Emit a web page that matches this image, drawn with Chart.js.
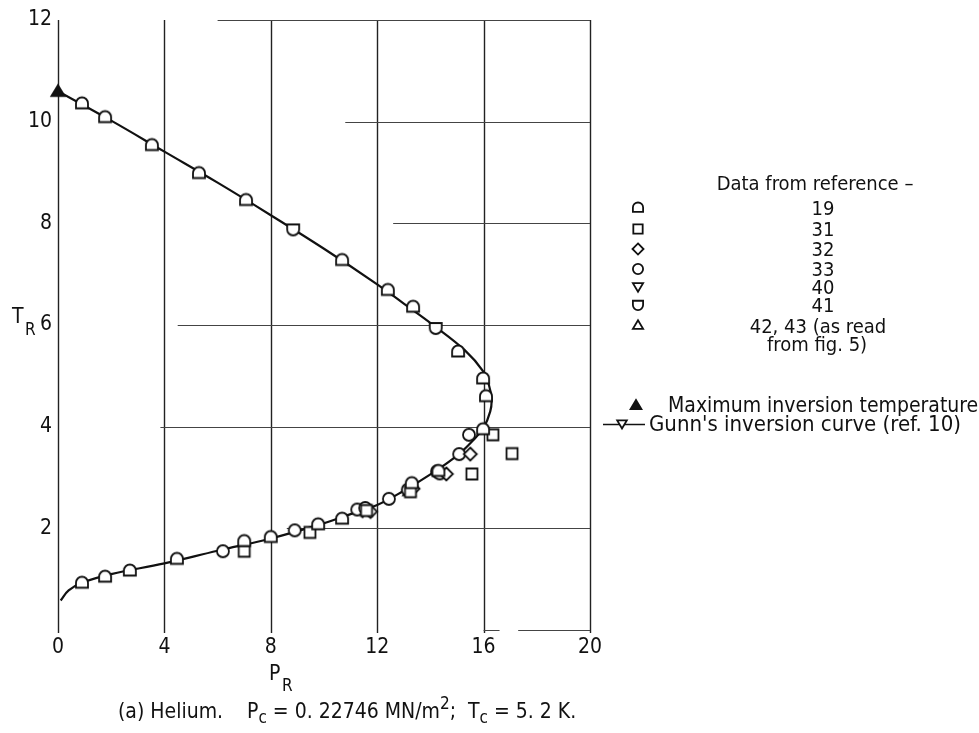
<!DOCTYPE html>
<html>
<head>
<meta charset="utf-8">
<script src="https://cdn.jsdelivr.net/npm/chart.js@4.4.1/dist/chart.umd.min.js"></script>
<style>
    html, body { margin: 0; padding: 0; background: #fff; }
    #wrap { width: 979px; height: 733px; position: relative; }
</style>
</head>
<body>
<div id="wrap"><canvas id="chart" width="979" height="733"></canvas></div>
<script>
( function ()
{
    'use strict';

    // Gunn's inversion curve (ref. 10), bottom branch to top
    const curveP = [ 0.1, 0.4, 0.9, 2, 4, 6, 8, 10, 11, 12, 13, 14, 15, 15.6, 16, 16.25, 16.3, 16.2, 16.0, 15.3, 14.1, 13, 12, 10, 8, 6, 4, 2, 0 ];
    const curveT = [ 0.58, 0.78, 0.93, 1.1, 1.31, 1.56, 1.8, 2.1, 2.28, 2.46, 2.74, 3.06, 3.43, 3.73, 3.98, 4.3, 4.55, 4.82, 5.08, 5.5, 6.0, 6.42, 6.8, 7.5, 8.16, 8.8, 9.41, 10.02, 10.6 ];

    // data from references
    const ref19P = [ 0.9, 1.77, 3.53, 5.3, 7.07, 10.68, 12.4, 13.35, 15.04, 15.98, 16.09, 15.98, 0.9, 1.77, 2.7, 4.47, 7.0, 8.0, 9.78, 10.68, 13.3, 14.3 ];
    const ref19T = [ 10.35, 10.08, 9.53, 8.98, 8.45, 7.27, 6.68, 6.35, 5.47, 4.94, 4.59, 3.94, 0.92, 1.04, 1.16, 1.39, 1.74, 1.82, 2.07, 2.18, 2.88, 3.12 ];
    const ref31P = [ 16.35, 17.07, 15.56, 7.0, 9.47, 13.25, 11.6 ];
    const ref31T = [ 3.84, 3.47, 3.07, 1.55, 1.92, 2.72, 2.35 ];
    const ref32P = [ 15.5, 14.6, 11.75, 13.35 ];
    const ref32T = [ 3.46, 3.07, 2.33, 2.78 ];
    const ref33P = [ 15.45, 15.08, 14.25, 14.35, 12.44, 11.25, 11.55, 13.15, 6.2, 8.9 ];
    const ref33T = [ 3.84, 3.46, 3.12, 3.08, 2.58, 2.37, 2.4, 2.76, 1.55, 1.96 ];
    const ref40P = [ 11.45 ];
    const ref40T = [ 2.33 ];
    const ref41P = [ 8.84, 14.2 ];
    const ref41T = [ 7.88, 5.94 ];
    const ref42P = [ 13.2 ];
    const ref42T = [ 2.74 ];
    const maxInvP = [ 0 ];
    const maxInvT = [ 10.6 ];

    // axes
    const xTicks = [ 0, 4, 8, 12, 16, 20 ];
    const yTicks = [ 2, 4, 6, 8, 10, 12 ];
    // horizontal rules only start part way across in the original
    const hRuleFrom = [ 8.6, 3.85, 4.5, 12.6, 10.8, 6 ];
    const bottomRule = [ [ 16, 16.6 ], [ 17.3, 20 ] ];

    const legendRefs = [ '19', '31', '32', '33', '40', '41' ];
    const legendShapes = [ 'dome', 'rect', 'diamond', 'circle', 'down', 'cup' ];

    const FONT = '"DejaVu Sans Condensed", "Liberation Sans Narrow", sans-serif';
    const INK = '#111';

    function pairs ( xs, ys )
    {
        return xs.map( ( x, i ) => ( { x, y: ys[ i ] } ) );
    }

    function drawMarker ( ctx, shape, x, y, filled, s )
    {
        s = s || 1;
        ctx.save();
        ctx.translate( x, y );
        ctx.scale( s, s );
        ctx.beginPath();
        switch ( shape )
        {
            case 'dome':
                ctx.moveTo( -6, 4.5 );
                ctx.lineTo( -6, -0.5 );
                ctx.arc( 0, -0.5, 6, Math.PI, 0 );
                ctx.lineTo( 6, 4.5 );
                ctx.closePath();
                break;
            case 'cup':
                ctx.moveTo( -6, -5 );
                ctx.lineTo( 6, -5 );
                ctx.lineTo( 6, 0 );
                ctx.arc( 0, 0, 6, 0, Math.PI );
                ctx.closePath();
                break;
            case 'rect':
                ctx.rect( -5.5, -5.5, 11, 11 );
                break;
            case 'diamond':
                ctx.moveTo( 0, -6.5 );
                ctx.lineTo( 6.5, 0 );
                ctx.lineTo( 0, 6.5 );
                ctx.lineTo( -6.5, 0 );
                ctx.closePath();
                break;
            case 'circle':
                ctx.arc( 0, 0, 6, 0, Math.PI * 2 );
                break;
            case 'down':
                ctx.moveTo( -6, -4.5 );
                ctx.lineTo( 6, -4.5 );
                ctx.lineTo( 0, 5.5 );
                ctx.closePath();
                break;
            case 'up':
                ctx.moveTo( -6, 4.5 );
                ctx.lineTo( 6, 4.5 );
                ctx.lineTo( 0, -5.5 );
                ctx.closePath();
                break;
        }
        ctx.fillStyle = filled ? INK : '#fff';
        ctx.fill();
        ctx.lineWidth = 1.8 / s;
        ctx.strokeStyle = INK;
        ctx.stroke();
        ctx.restore();
    }

    function markerImage ( shape, filled, s )
    {
        const c = document.createElement( 'canvas' );
        c.width = 20;
        c.height = 20;
        drawMarker( c.getContext( '2d' ), shape, 10, 10, filled, s );
        return c;
    }

    function pointSet ( label, xs, ys, shape, filled, s )
    {
        return {
            label,
            data: pairs( xs, ys ),
            pointStyle: markerImage( shape, filled, s ),
            pointRadius: 7,
            showLine: false,
            clip: false
        };
    }

    function text ( ctx, str, x, y, size, align )
    {
        ctx.font = size + 'px ' + FONT;
        ctx.textAlign = align || 'left';
        ctx.textBaseline = 'alphabetic';
        ctx.fillStyle = INK;
        ctx.fillText( str, x, y );
        return ctx.measureText( str ).width;
    }

    const rulesPlugin = {
        id: 'rules',
        beforeDatasetsDraw ( chart )
        {
            const { ctx } = chart;
            const xs = chart.scales.x, ys = chart.scales.y;
            ctx.save();
            ctx.strokeStyle = '#222';
            ctx.lineWidth = 1.4;
            xTicks.forEach( p =>
            {
                const px = Math.round( xs.getPixelForValue( p ) ) + 0.5;
                ctx.beginPath();
                ctx.moveTo( px, ys.getPixelForValue( 12 ) );
                ctx.lineTo( px, ys.getPixelForValue( 0 ) + 3 );
                ctx.stroke();
            } );
            ctx.strokeStyle = '#444';
            ctx.lineWidth = 1;
            yTicks.forEach( ( t, i ) =>
            {
                const py = Math.round( ys.getPixelForValue( t ) ) + 0.5;
                ctx.beginPath();
                ctx.moveTo( xs.getPixelForValue( hRuleFrom[ i ] ), py );
                ctx.lineTo( xs.getPixelForValue( 20 ), py );
                ctx.stroke();
            } );
            bottomRule.forEach( seg =>
            {
                const py = Math.round( ys.getPixelForValue( 0 ) ) + 0.5;
                ctx.beginPath();
                ctx.moveTo( xs.getPixelForValue( seg[ 0 ] ), py );
                ctx.lineTo( xs.getPixelForValue( seg[ 1 ] ), py );
                ctx.stroke();
            } );
            ctx.restore();
        }
    };

    const labelsPlugin = {
        id: 'labels',
        afterDraw ( chart )
        {
            const { ctx } = chart;
            ctx.save();

            // axis titles
            text( ctx, 'T', 12, 323, 21 );
            text( ctx, 'R', 25, 335, 17 );
            text( ctx, 'P', 269, 680, 21 );
            text( ctx, 'R', 282, 691, 17 );

            // caption
            let x = 118;
            const base = 718;
            x += text( ctx, '(a) Helium.    P', x, base, 21 );
            x += text( ctx, 'c', x, base + 5, 17 );
            x += text( ctx, ' = 0. 22746 MN/m', x, base, 21 );
            x += text( ctx, '2', x, base - 9, 17 );
            x += text( ctx, ';  T', x, base, 21 );
            x += text( ctx, 'c', x, base + 5, 17 );
            text( ctx, ' = 5. 2 K.', x, base, 21 );

            // legend
            text( ctx, 'Data from reference \u2013', 815, 190, 20, 'center' );
            const rows = [ 208, 229, 249, 269, 287, 305 ];
            rows.forEach( ( y, i ) =>
            {
                drawMarker( ctx, legendShapes[ i ], 638, y, false, 0.85 );
                text( ctx, legendRefs[ i ], 823, y + 7, 20, 'center' );
            } );
            drawMarker( ctx, 'up', 638, 325, false, 0.85 );
            text( ctx, '42, 43 (as read', 818, 333, 20, 'center' );
            text( ctx, 'from fig. 5)', 817, 351, 20, 'center' );

            drawMarker( ctx, 'up', 636, 405, true, 0.9 );
            text( ctx, 'Maximum inversion temperature', 668, 412, 21 );

            ctx.strokeStyle = INK;
            ctx.lineWidth = 1.6;
            ctx.beginPath();
            ctx.moveTo( 603, 424.5 );
            ctx.lineTo( 645, 424.5 );
            ctx.stroke();
            drawMarker( ctx, 'down', 622, 424, false, 0.8 );
            text( ctx, "Gunn's inversion curve (ref. 10)", 649, 431, 22 );

            ctx.restore();
        }
    };

    const datasets = [
        pointSet( 'Maximum inversion temperature', maxInvP, maxInvT, 'up', true, 1.1 ),
        pointSet( '19', ref19P, ref19T, 'dome', false ),
        pointSet( '31', ref31P, ref31T, 'rect', false ),
        pointSet( '32', ref32P, ref32T, 'diamond', false ),
        pointSet( '33', ref33P, ref33T, 'circle', false ),
        pointSet( '40', ref40P, ref40T, 'down', false ),
        pointSet( '41', ref41P, ref41T, 'cup', false ),
        pointSet( '42, 43', ref42P, ref42T, 'up', false ),
        {
            label: "Gunn's inversion curve",
            data: pairs( curveP, curveT ),
            showLine: true,
            tension: 0.4,
            borderColor: INK,
            borderWidth: 2.2,
            pointRadius: 0,
            fill: false
        }
    ];

    new Chart( document.getElementById( 'chart' ), {
        type: 'scatter',
        data: { datasets },
        options: {
            responsive: false,
            animation: false,
            events: [],
            layout: { padding: { top: 20, right: 389, left: 0, bottom: 0 } },
            plugins: {
                legend: { display: false },
                tooltip: { enabled: false }
            },
            scales: {
                x: {
                    type: 'linear',
                    min: 0,
                    max: 20,
                    afterFit ( scale ) { scale.height = 103; },
                    afterBuildTicks ( scale ) { scale.ticks = xTicks.map( v => ( { value: v } ) ); },
                    grid: { display: false, drawTicks: false },
                    border: { display: false },
                    ticks: { color: INK, padding: 5, font: { family: FONT, size: 21 } }
                },
                y: {
                    type: 'linear',
                    min: 0,
                    max: 12,
                    afterFit ( scale ) { scale.width = 58; },
                    afterBuildTicks ( scale ) { scale.ticks = yTicks.map( v => ( { value: v } ) ); },
                    grid: { display: false, drawTicks: false },
                    border: { display: false },
                    ticks: { color: INK, padding: 6, font: { family: FONT, size: 21 } }
                }
            }
        },
        plugins: [ rulesPlugin, labelsPlugin ]
    } );
} )();
</script>
</body>
</html>
